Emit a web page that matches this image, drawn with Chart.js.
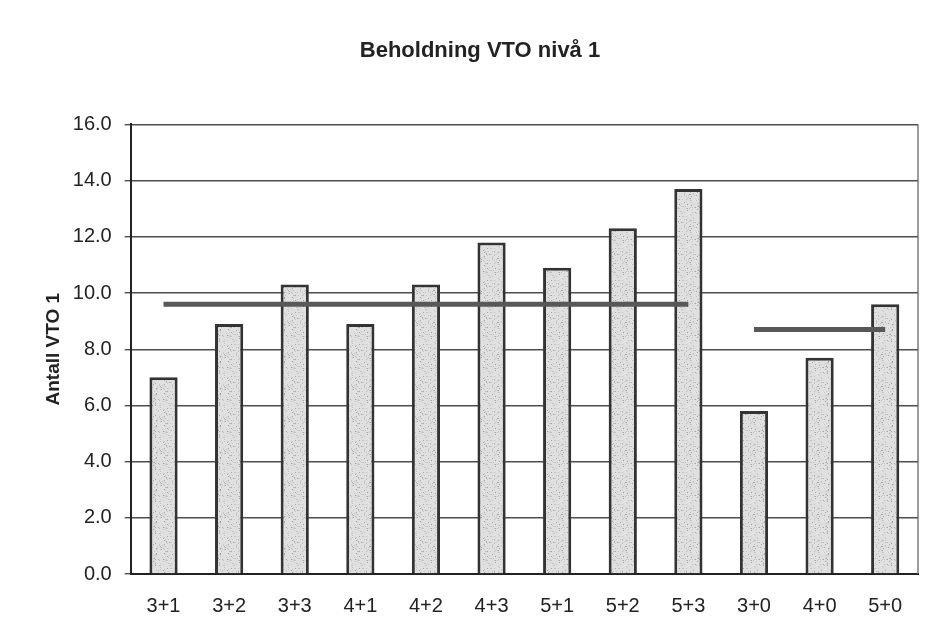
<!DOCTYPE html>
<html>
<head>
<meta charset="utf-8">
<script src="https://cdn.jsdelivr.net/npm/chart.js@4"></script>
<style>
  html, body { margin: 0; padding: 0; background: #fff; }
  #wrap { width: 928px; height: 640px; }
</style>
</head>
<body>
<div id="wrap"><canvas id="vto"></canvas></div>
<script>
const kategorier = ['3+1', '3+2', '3+3', '4+1', '4+2', '4+3', '5+1', '5+2', '5+3', '3+0', '4+0', '5+0'];
const antall = [7.0, 8.9, 10.3, 8.9, 10.3, 11.8, 10.9, 12.3, 13.7, 5.8, 7.7, 9.6];
const snittMedOpp = [9.6, 9.6, 9.6, 9.6, 9.6, 9.6, 9.6, 9.6, 9.6, null, null, null];
const snittUtenOpp = [null, null, null, null, null, null, null, null, null, 8.7, 8.7, 8.7];

// grå prikket fyll som i den skannede figuren
function lagMonster() {
  const c = document.createElement('canvas');
  c.width = 32; c.height = 32;
  const g = c.getContext('2d');
  g.fillStyle = '#e0e0e0';
  g.fillRect(0, 0, 32, 32);
  let s = 12345;
  const neste = () => {
    s = (s * 1103515245 + 12345) % 2147483648;
    return Math.floor(s / 65536) % 32;
  };
  for (let i = 0; i < 160; i++) {
    const x = neste(), y = neste();
    g.fillStyle = i % 4 === 0 ? '#a4a4a4' : '#c4c4c4';
    g.fillRect(x, y, 1, 1);
  }
  return g.createPattern(c, 'repeat');
}

const ctx = document.getElementById('vto').getContext('2d');

new Chart(ctx, {
  data: {
    labels: kategorier,
    datasets: [
      {
        type: 'line',
        data: snittMedOpp,
        borderColor: '#585858',
        borderWidth: 5,
        pointRadius: 0,
        order: 0
      },
      {
        type: 'line',
        data: snittUtenOpp,
        borderColor: '#585858',
        borderWidth: 5,
        pointRadius: 0,
        order: 0
      },
      {
        type: 'bar',
        data: antall,
        backgroundColor: lagMonster(),
        borderColor: '#333',
        borderWidth: 3,
        barPercentage: 0.43,
        categoryPercentage: 1,
        order: 1
      }
    ]
  },
  options: {
    responsive: true,
    maintainAspectRatio: false,
    animation: false,
    layout: { padding: { top: 38, left: 42, right: 10, bottom: 10 } },
    plugins: {
      legend: { display: false },
      tooltip: { enabled: false },
      title: {
        display: true,
        text: 'Beholdning VTO nivå 1',
        color: '#222',
        font: { family: 'Liberation Sans', size: 22, weight: 'bold' },
        padding: { top: 0, bottom: 60 }
      }
    },
    scales: {
      x: {
        grid: { display: false },
        border: { color: '#222', width: 2 },
        ticks: {
          color: '#222',
          padding: 12,
          maxRotation: 0,
          font: { family: 'Liberation Sans', size: 20 }
        }
      },
      y: {
        min: 0,
        max: 16,
        grid: { color: '#4e4e4e', lineWidth: 1.4, tickLength: 6 },
        border: { color: '#222', width: 2 },
        ticks: {
          stepSize: 2,
          color: '#222',
          padding: 13,
          font: { family: 'Liberation Sans', size: 20 },
          callback: v => v.toFixed(1)
        },
        title: {
          display: true,
          text: 'Antall VTO 1',
          color: '#222',
          padding: { top: 0, bottom: -5 },
          font: { family: 'Liberation Sans', size: 19, weight: 'bold' }
        }
      }
    }
  },
  plugins: [{
    id: 'ramme',
    afterDraw(chart) {
      const a = chart.chartArea;
      const g = chart.ctx;
      g.save();
      g.strokeStyle = '#666';
      g.lineWidth = 1.3;
      g.beginPath();
      g.moveTo(a.right, a.top);
      g.lineTo(a.right, a.bottom);
      g.stroke();
      g.restore();
    }
  }]
});
</script>
</body>
</html>
